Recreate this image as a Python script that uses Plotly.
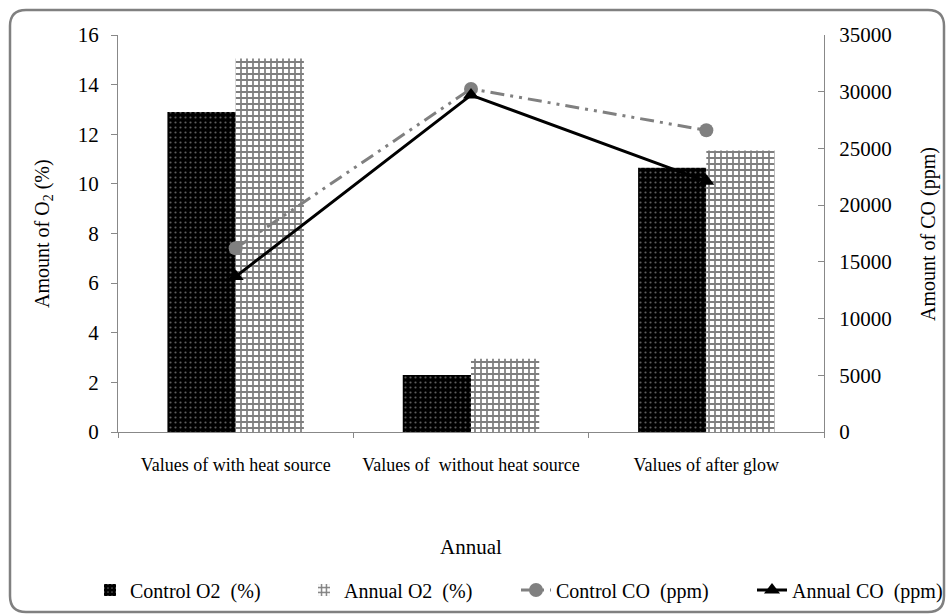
import plotly.graph_objects as go

categories = ["Values of with heat source", "Values of  without heat source", "Values of after glow"]
control_o2 = [12.9, 2.3, 10.65]
annual_o2 = [15.05, 2.95, 11.35]
control_co = [16200, 30250, 26600]
annual_co = [13700, 29700, 22100]

FONT = "'Liberation Serif', 'Times New Roman', 'DejaVu Serif', serif"
NB = "\u00a0"

fig = go.Figure()
fig.add_trace(go.Bar(
    x=categories, y=control_o2, name="Control" + NB + "O2" + NB * 2 + "(%)", legend="legend",
    marker=dict(color="black", line=dict(width=0),
                pattern=dict(shape=".", fgcolor="#bbbbbb", bgcolor="black", size=5, solidity=0.15)),
))
fig.add_trace(go.Bar(
    x=categories, y=annual_o2, name="Annual" + NB + "O2" + NB * 2 + "(%)", legend="legend2",
    marker=dict(color="white", line=dict(width=0),
                pattern=dict(shape="+", fgcolor="black", bgcolor="white", size=6, solidity=0.5)),
))
fig.add_trace(go.Scatter(
    x=categories, y=control_co, name="Control" + NB + "CO" + NB * 2 + "(ppm)", yaxis="y2",
    legend="legend3", mode="lines+markers",
    line=dict(color="#808080", width=3, dash="14px,6px,3px,6px,3px,6px"),
    marker=dict(symbol="circle", size=14, color="#808080"),
))
fig.add_trace(go.Scatter(
    x=categories, y=annual_co, name="Annual" + NB + "CO" + NB * 2 + "(ppm)", yaxis="y2",
    legend="legend4", mode="lines+markers",
    line=dict(color="black", width=3),
    marker=dict(symbol="triangle-up", size=14, color="black"),
))

L, R = 118, 824
T, B = 35, 432
W = R - L
H = B - T
def px(x):
    return (x - L) / W
def py(y):
    return (B - y) / H

x0, x1, y0, y1 = px(10), px(944), py(612), py(10)
rx, ry = 16 / W, 16 / H
path = (f"M {x0+rx},{y1} L {x1-rx},{y1} Q {x1},{y1} {x1},{y1-ry} "
        f"L {x1},{y0+ry} Q {x1},{y0} {x1-rx},{y0} L {x0+rx},{y0} "
        f"Q {x0},{y0} {x0},{y0+ry} L {x0},{y1-ry} Q {x0},{y1} {x0+rx},{y1} Z")

def leg(text_x):
    return dict(orientation="h", x=px(text_x - 41), xanchor="left", y=py(590), yanchor="middle",
                font=dict(family=FONT, size=20), bgcolor="rgba(0,0,0,0)")

fig.update_layout(
    width=950, height=615,
    margin=dict(l=L, r=950 - R, t=T, b=615 - B, autoexpand=False),
    paper_bgcolor="white", plot_bgcolor="white",
    font=dict(family=FONT, size=16, color="black"),
    barmode="group", bargap=0.42, bargroupgap=0,
    showlegend=True,
    legend=leg(131),
    legend2=leg(345),
    legend3=leg(557),
    legend4=leg(793),
    xaxis=dict(
        automargin=False,
        showline=True, linecolor="#888888", linewidth=1,
        ticks="outside", tickson="boundaries", ticklen=5, tickcolor="#888888",
        tickfont=dict(family=FONT, size=18), ticklabelstandoff=16,
        showgrid=False,
    ),
    yaxis=dict(
        automargin=False,
        range=[0, 16], dtick=2, showline=True, linecolor="#888888", linewidth=1,
        ticks="outside", ticklen=6, tickcolor="#888888", showgrid=False, zeroline=False,
        tickfont=dict(family=FONT, size=21), ticklabelstandoff=8,
    ),
    yaxis2=dict(
        automargin=False,
        range=[0, 35000], dtick=5000, tickformat="d", overlaying="y", side="right",
        showline=True, linecolor="#888888", linewidth=1,
        ticks="inside", ticklen=6, tickcolor="#888888", showgrid=False, zeroline=False,
        tickfont=dict(family=FONT, size=21), ticklabelstandoff=10,
    ),
    shapes=[dict(type="path", xref="paper", yref="paper", path=path,
                 line=dict(color="#808080", width=2.5), fillcolor="rgba(0,0,0,0)", layer="below")],
    annotations=[
        dict(text="Annual", xref="paper", yref="paper", x=0.5, y=py(547),
             xanchor="center", yanchor="middle",
             showarrow=False, font=dict(family=FONT, size=21)),
        dict(text="Amount of O<sub>2</sub> (%)", xref="paper", yref="paper", x=px(44), y=py(234),
             xanchor="center", yanchor="middle", textangle=-90,
             showarrow=False, font=dict(family=FONT, size=20)),
        dict(text="Amount of CO (ppm)", xref="paper", yref="paper", x=px(929), y=py(234),
             xanchor="center", yanchor="middle", textangle=-90,
             showarrow=False, font=dict(family=FONT, size=20)),
    ],
)

fig.write_html("out.html", config={"displayModeBar": False},
               post_script="document.body.style.margin='0';document.body.style.padding='0';")
